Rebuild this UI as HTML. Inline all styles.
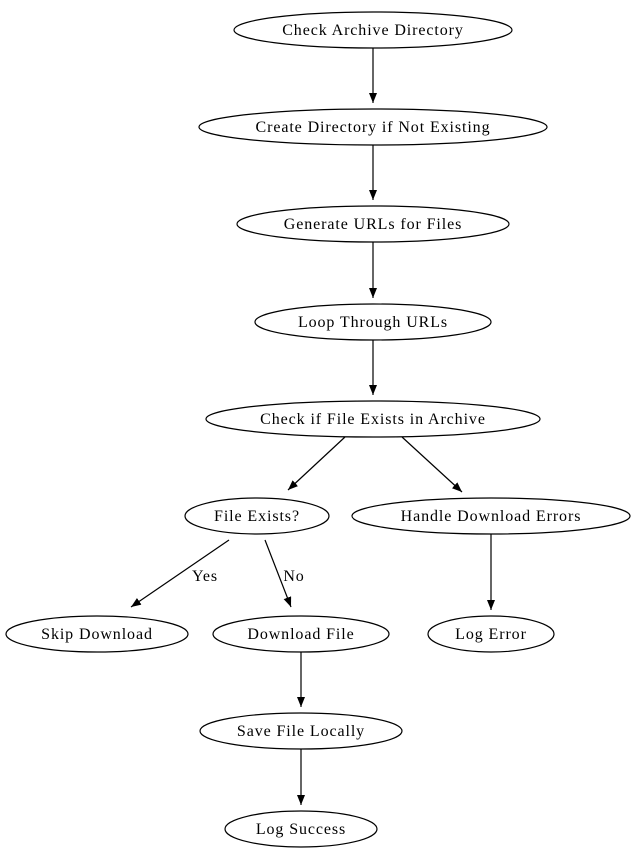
<!DOCTYPE html>
<html><head><style>body{margin:0;background:#fff}</style></head><body>
<svg width="636" height="858" xmlns="http://www.w3.org/2000/svg" font-family="'Liberation Serif', serif" font-size="16" letter-spacing="0.9">
<defs><marker id="a" markerWidth="10" markerHeight="8" refX="10" refY="4" orient="auto" markerUnits="userSpaceOnUse"><path d="M0,0L10,4L0,8z" fill="#000"/></marker></defs>
<g fill="none" stroke="#000" stroke-width="1.2">
<ellipse cx="373" cy="30" rx="139" ry="18"/>
<ellipse cx="373" cy="127" rx="174" ry="18"/>
<ellipse cx="373" cy="224" rx="136" ry="18"/>
<ellipse cx="373" cy="322" rx="118" ry="18"/>
<ellipse cx="373" cy="419" rx="167" ry="18"/>
<ellipse cx="257" cy="516" rx="72" ry="18"/>
<ellipse cx="491" cy="516" rx="139" ry="18"/>
<ellipse cx="97" cy="634" rx="91" ry="18"/>
<ellipse cx="301" cy="634" rx="88" ry="18"/>
<ellipse cx="491" cy="634" rx="63" ry="18"/>
<ellipse cx="301" cy="731" rx="101" ry="18"/>
<ellipse cx="301" cy="829" rx="76" ry="18"/>
<g marker-end="url(#a)">
<line x1="373" y1="48" x2="373" y2="103"/>
<line x1="373" y1="145" x2="373" y2="200"/>
<line x1="373" y1="242" x2="373" y2="298"/>
<line x1="373" y1="340" x2="373" y2="395"/>
<line x1="345" y1="437" x2="288" y2="490"/>
<line x1="402" y1="437" x2="462" y2="492"/>
<line x1="229" y1="540" x2="131" y2="607"/>
<line x1="265" y1="540" x2="291" y2="607"/>
<line x1="491" y1="534" x2="491" y2="610"/>
<line x1="301" y1="652" x2="301" y2="707"/>
<line x1="301" y1="749" x2="301" y2="805"/>
</g></g>
<g text-anchor="middle" fill="#000">
<text x="373" y="35">Check Archive Directory</text>
<text x="373" y="132">Create Directory if Not Existing</text>
<text x="373" y="229">Generate URLs for Files</text>
<text x="373" y="327">Loop Through URLs</text>
<text x="373" y="424">Check if File Exists in Archive</text>
<text x="257" y="521">File Exists?</text>
<text x="491" y="521">Handle Download Errors</text>
<text x="97" y="639">Skip Download</text>
<text x="301" y="639">Download File</text>
<text x="491" y="639">Log Error</text>
<text x="301" y="736">Save File Locally</text>
<text x="301" y="834">Log Success</text>
<text x="205" y="581">Yes</text>
<text x="294" y="581">No</text>
</g>
</svg>
</body></html>
